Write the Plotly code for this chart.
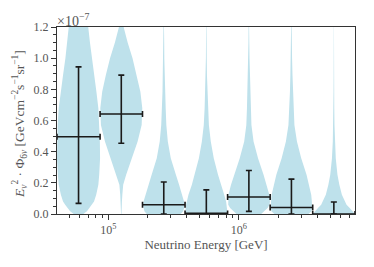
import numpy as np
import plotly.graph_objects as go

# ---- data (flux values in units of 1e-7 GeV cm^-2 s^-1 sr^-1) ----
bin_edges_log10 = [4.607, 4.937, 5.262, 5.588, 5.914, 6.240, 6.566, 6.890]
best_fit = [0.496, 0.642, 0.059, 0.004, 0.109, 0.042, 0.0]
upper = [0.944, 0.891, 0.205, 0.155, 0.279, 0.224, 0.077]
lower = [0.068, 0.454, 0.0, 0.0, 0.017, 0.0, 0.0]

# violin profile: flux levels and relative half-widths (fraction of half-bin width)
violin_levels = [0.0, 0.017, 0.038, 0.06, 0.081, 0.124, 0.188, 0.252, 0.358,
                 0.465, 0.571, 0.678, 0.785, 0.891, 1.0, 1.1, 1.2, 1.4]
violin_w1 = [0.22, 0.39, 0.5, 0.62, 0.72, 0.82, 0.92, 0.96, 1.0, 0.99, 0.97,
             0.92, 0.83, 0.72, 0.61, 0.53, 0.45, 0.3]
violin_w2 = [0.01, 0.01, 0.015, 0.02, 0.03, 0.05, 0.09, 0.23, 0.5, 0.77, 0.96,
             0.99, 0.9, 0.73, 0.53, 0.30, 0.11, 0.0]
violin_w3 = [0.8, 0.91, 0.96, 0.98, 0.95, 0.87, 0.72, 0.57, 0.33, 0.19, 0.12,
             0.09, 0.06, 0.04, 0.025, 0.02, 0.015, 0.01]
violin_w4 = [1.0, 0.99, 0.97, 0.95, 0.93, 0.84, 0.68, 0.55, 0.35, 0.21, 0.12,
             0.08, 0.05, 0.03, 0.02, 0.015, 0.01, 0.0]
violin_w5 = [0.58, 0.74, 0.88, 0.97, 0.99, 0.96, 0.84, 0.69, 0.43, 0.22, 0.12,
             0.09, 0.06, 0.04, 0.03, 0.02, 0.015, 0.01]
violin_w6 = [0.8, 0.94, 0.97, 0.98, 0.96, 0.93, 0.82, 0.71, 0.46, 0.26, 0.14,
             0.1, 0.07, 0.05, 0.03, 0.02, 0.015, 0.01]
violin_w7 = [1.0, 0.9, 0.75, 0.6, 0.53, 0.38, 0.26, 0.17, 0.09, 0.05, 0.03,
             0.02, 0.015, 0.01, 0.01, 0.005, 0.003, 0.0]
violin_widths = [violin_w1, violin_w2, violin_w3, violin_w4, violin_w5, violin_w6, violin_w7]

y_ticks = [0.0, 0.2, 0.4, 0.6, 0.8, 1.0, 1.2]
x_ticks = [1e5, 1e6]
x_tick_labels = ["10<sup>5</sup>", "10<sup>6</sup>"]

FONT = "Liberation Serif"
TXT = "#555555"
VCOL = "rgb(190,225,235)"
LINE = "#333333"

fig = go.Figure()

edges = np.array(bin_edges_log10)
centers_log = (edges[:-1] + edges[1:]) / 2
halfs = (edges[1:] - edges[:-1]) / 2
lev = np.array(violin_levels)

for c, h, w in zip(centers_log, halfs, violin_widths):
    w = np.array(w)
    xr = 10 ** (c + w * h)
    xl = 10 ** (c - w * h)
    xs = np.concatenate([xr, xl[::-1]])
    ys = np.concatenate([lev, lev[::-1]])
    fig.add_trace(go.Scatter(x=xs, y=ys, mode="lines", fill="toself",
                             fillcolor=VCOL, line=dict(width=0, color=VCOL),
                             hoverinfo="skip", showlegend=False))

xc = 10 ** centers_log
bf = np.array(best_fit)
fig.add_trace(go.Scatter(
    x=xc, y=bf, mode="markers", marker=dict(size=1, color="#1a1a1a"),
    error_x=dict(type="data", array=10 ** edges[1:] - xc, arrayminus=xc - 10 ** edges[:-1],
                 color="#1a1a1a", thickness=1.6, width=3),
    error_y=dict(type="data", array=np.array(upper) - bf, arrayminus=bf - np.array(lower),
                 color="#1a1a1a", thickness=1.6, width=3),
    showlegend=False, hoverinfo="skip"))

minor_x = [m * 10 ** k for k in (4, 5, 6) for m in range(2, 10)]

y_title = ("<i>E</i><sub><i>ν</i></sub><sup>2</sup> · Φ<sub>6<i>ν</i></sub> "
           "[GeVcm<sup>−2</sup>s<sup>−1</sup>sr<sup>−1</sup>]")

fig.update_layout(
    width=374, height=267,
    margin=dict(l=57, r=19, t=27, b=53, autoexpand=False),
    paper_bgcolor="white", plot_bgcolor="white",
    font=dict(family=FONT, size=12, color=TXT),
    xaxis=dict(type="log", range=[bin_edges_log10[0], bin_edges_log10[-1]],
               automargin=False,
               tickvals=x_ticks, ticktext=x_tick_labels,
               ticks="outside", ticklen=5, tickwidth=1, tickcolor=LINE,
               showline=True, linecolor=LINE, linewidth=1, mirror=True,
               showgrid=False, zeroline=False,
               minor=dict(tickvals=minor_x, ticks="outside", ticklen=3, tickcolor=LINE, showgrid=False),
               title=dict(text="Neutrino Energy [GeV]", font=dict(size=13, color=TXT), standoff=2),
               tickfont=dict(size=12, color=TXT)),
    yaxis=dict(range=[0, 1.2], tickvals=y_ticks, tickformat=".1f",
               automargin=False,
               ticks="outside", ticklen=5, tickwidth=1, tickcolor=LINE,
               showline=True, linecolor=LINE, linewidth=1, mirror=True,
               showgrid=False, zeroline=False,
               minor=dict(dtick=0.05, ticks="outside", ticklen=3, tickcolor=LINE, showgrid=False),
               tickfont=dict(size=12, color=TXT)),
    annotations=[
        dict(text="×10<sup>−7</sup>", xref="paper", yref="paper", x=0, y=1,
             xanchor="left", yanchor="bottom", showarrow=False,
             font=dict(size=14, color=TXT), yshift=-4, xshift=-2),
        dict(text=y_title, xref="paper", yref="paper", x=0, y=0.5,
             xanchor="right", yanchor="middle", textangle=-90, showarrow=False,
             font=dict(size=13.5, color=TXT), xshift=-26, yshift=-3),
    ],
)

fig.write_html("out.html",
               config={"responsive": False, "displayModeBar": False},
               post_script="document.body.style.margin='0';document.body.style.overflow='hidden';")
